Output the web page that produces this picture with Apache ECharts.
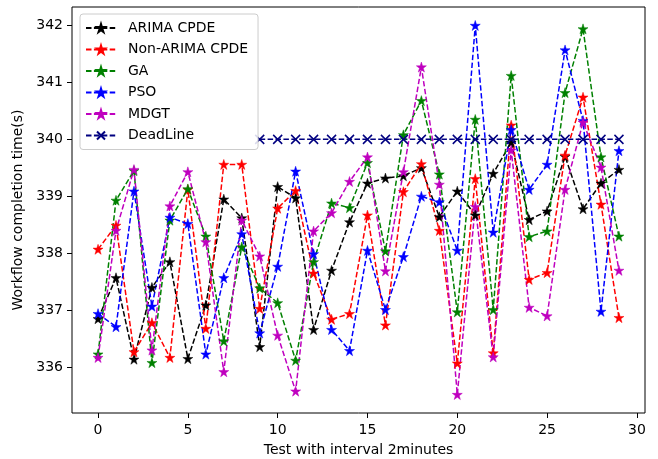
<!DOCTYPE html>
<html>
<head>
<meta charset="utf-8">
<script src="https://cdn.jsdelivr.net/npm/echarts@6/dist/echarts.min.js"></script>
<style>
html,body{margin:0;padding:0;background:#fff;}
#chart{width:658px;height:459px;}
</style>
</head>
<body>
<div id="chart"></div>
<script>
// ---- data ----
var tests = [0,1,2,3,4,5,6,7,8,9,10,11,12,13,14,15,16,17,18,19,20,21,22,23,24,25,26,27,28,29];
var arimaCPDE = [336.85,337.57,336.14,337.40,337.85,336.15,337.09,338.95,338.62,336.36,339.17,338.97,336.66,337.70,338.55,339.23,339.32,339.36,339.50,338.64,339.09,338.67,339.40,339.95,338.59,338.74,339.70,338.78,339.23,339.47];
var nonArimaCPDE = [338.07,338.49,336.27,336.78,336.17,339.12,336.68,339.56,339.56,337.03,338.79,339.10,337.65,336.84,336.94,338.67,336.74,339.08,339.57,338.40,336.07,339.31,336.25,340.25,337.54,337.66,339.72,340.74,338.86,336.87];
var ga = [336.23,338.93,339.45,336.08,338.58,339.13,338.30,336.46,338.11,337.39,337.13,336.12,337.85,338.88,338.80,339.59,338.04,340.08,340.68,339.39,336.97,340.35,337.01,341.12,338.29,338.39,340.82,341.94,339.69,338.30];
var pso = [336.94,336.71,339.09,337.07,338.63,338.52,336.23,337.57,338.34,336.60,337.77,339.44,337.99,336.66,336.29,338.05,337.01,337.94,339.00,338.90,338.05,342.00,338.37,340.17,339.12,339.56,341.57,340.33,336.98,339.80];
var mdgt = [336.17,338.40,339.47,336.30,338.83,339.43,338.20,335.92,338.58,337.95,336.56,335.58,338.39,338.71,339.26,339.69,337.69,339.43,341.27,339.21,335.52,338.82,336.18,339.81,337.05,336.90,339.12,340.30,339.51,337.70];
var deadlineTests = [9,10,11,12,13,14,15,16,17,18,19,20,21,22,23,24,25,26,27,28,29];
var deadlineValues = [340,340,340,340,340,340,340,340,340,340,340,340,340,340,340,340,340,340,340,340,340];
var xTicks = [0,5,10,15,20,25,30];
var yTicks = [336,337,338,339,340,341,342];

var FONT = 'DejaVu Sans';
var STAR = 'path://M0,-100L22.45,-30.9L95.11,-30.9L36.33,11.8L58.78,80.9L0,38.2L-58.78,80.9L-36.33,11.8L-95.11,-30.9L-22.45,-30.9Z';
var CROSS = 'path://M0,0L10,10M0,10L10,0';

function pairs(xs, ys){ return xs.map(function(x,i){ return [x, ys[i]]; }); }

function starSeries(name, ys, color){
  return {
    name: name, type: 'line', data: pairs(tests, ys),
    symbol: STAR, symbolSize: 10, showSymbol: true,
    lineStyle: {color: color, width: 1.5, type: [5.5, 2.4]},
    itemStyle: {color: color, borderColor: color, borderWidth: 0.5},
    emphasis: {disabled: true}, animation: false
  };
}

var chart = echarts.init(document.getElementById('chart'), null, {renderer: 'canvas'});
chart.setOption({
  animation: false,
  backgroundColor: '#fff',
  grid: {left: 72, right: 13, top: 7, bottom: 46, outerBoundsMode: 'none', containLabel: false,
         show: true, borderColor: '#000', borderWidth: 1, backgroundColor: 'transparent'},
  xAxis: {
    type: 'value', min: -1.45, max: 30.45,
    name: 'Test with interval 2minutes', nameLocation: 'middle', nameGap: 30,
    nameTextStyle: {fontFamily: FONT, fontSize: 14, color: '#000'},
    axisLine: {show: false, onZero: false},
    axisTick: {show: true, inside: false, length: 5, lineStyle: {color: '#000', width: 1}, customValues: xTicks},
    axisLabel: {fontFamily: FONT, fontSize: 14, color: '#000', margin: 10, customValues: xTicks},
    splitLine: {show: false}
  },
  yAxis: {
    type: 'value', min: 335.196, max: 342.324,
    name: 'Workflow completion time(s)', nameLocation: 'middle', nameGap: 44,
    nameTextStyle: {fontFamily: FONT, fontSize: 14, color: '#000'},
    axisLine: {show: false, onZero: false},
    axisTick: {show: true, inside: false, length: 5, lineStyle: {color: '#000', width: 1}, customValues: yTicks},
    axisLabel: {fontFamily: FONT, fontSize: 14, color: '#000', margin: 9, customValues: yTicks},
    splitLine: {show: false}
  },
  legend: {
    orient: 'vertical', left: 80, top: 14,
    backgroundColor: 'rgba(255,255,255,0.85)', borderColor: '#cccccc', borderWidth: 1, borderRadius: 3,
    padding: [7, 10, 7, 5],
    itemWidth: 30, itemHeight: 10, itemGap: 7.5,
    textStyle: {fontFamily: FONT, fontSize: 14, color: '#000', lineHeight: 14, padding: [0, 0, 0, 7]},
    data: ['ARIMA CPDE','Non-ARIMA CPDE','GA','PSO','MDGT','DeadLine']
  },
  series: [
    starSeries('ARIMA CPDE', arimaCPDE, '#000000'),
    starSeries('Non-ARIMA CPDE', nonArimaCPDE, '#ff0000'),
    starSeries('GA', ga, '#008000'),
    starSeries('PSO', pso, '#0000ff'),
    starSeries('MDGT', mdgt, '#bf00bf'),
    {
      name: 'DeadLine', type: 'line', data: pairs(deadlineTests, deadlineValues),
      symbol: CROSS, symbolSize: 9, showSymbol: true,
      lineStyle: {color: '#000080', width: 1.5, type: [5.5, 2.4]},
      itemStyle: {color: '#000080', borderColor: '#000080', borderWidth: 1.5},
      emphasis: {disabled: true}, animation: false
    }
  ]
});
</script>
</body>
</html>
